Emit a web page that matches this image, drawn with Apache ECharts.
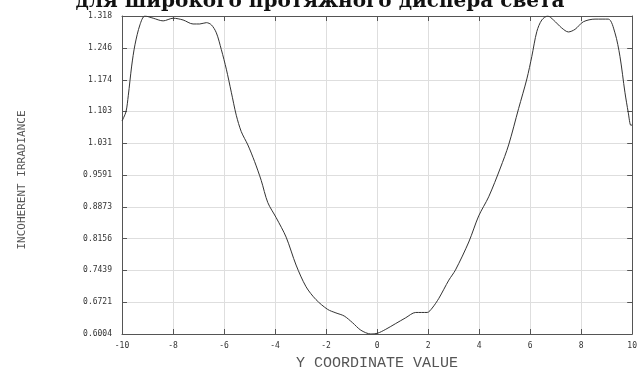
<!DOCTYPE html>
<html><head><meta charset="utf-8">
<script src="https://cdn.jsdelivr.net/npm/echarts@6/dist/echarts.min.js"></script>
<style>html,body{margin:0;padding:0;background:#fff}#c{width:640px;height:376px}</style>
</head><body><div id="c"></div>
<script>
const titleText = 'для широкого протяжного диспера света';
const xName = 'Y COORDINATE VALUE';
const yName = 'INCOHERENT IRRADIANCE';
const xValues = [-10, -9.844, -9.754, -9.621, -9.492, -9.297, -9.102, -8.777, -8.387, -7.996, -7.605, -7.215, -6.953, -6.691, -6.496, -6.301, -6.105, -5.910, -5.715, -5.520, -5.324, -5.066, -4.805, -4.543, -4.285, -3.957, -3.566, -3.176, -2.785, -2.395, -1.941, -1.613, -1.289, -0.965, -0.637, -0.246, 0.012, 0.340, 0.730, 1.121, 1.512, 1.965, 2.160, 2.422, 2.813, 3.074, 3.594, 3.984, 4.375, 4.832, 5.156, 5.547, 5.871, 6.066, 6.262, 6.457, 6.691, 6.914, 7.238, 7.500, 7.762, 8.086, 8.543, 9.063, 9.324, 9.520, 9.715, 9.844, 9.949, 10];
const yValues = [1.081, 1.102, 1.138, 1.205, 1.253, 1.298, 1.318, 1.313, 1.307, 1.313, 1.309, 1.300, 1.300, 1.303, 1.298, 1.280, 1.242, 1.198, 1.146, 1.094, 1.057, 1.027, 0.990, 0.947, 0.897, 0.863, 0.819, 0.756, 0.707, 0.678, 0.656, 0.648, 0.641, 0.626, 0.609, 0.6004, 0.602, 0.611, 0.624, 0.637, 0.649, 0.649, 0.659, 0.681, 0.722, 0.745, 0.808, 0.867, 0.910, 0.975, 1.027, 1.109, 1.176, 1.227, 1.283, 1.309, 1.318, 1.309, 1.291, 1.282, 1.288, 1.305, 1.311, 1.311, 1.280, 1.227, 1.146, 1.101, 1.071, 1.073];
const yTickValues = [0.6004, 0.6721, 0.7439, 0.8156, 0.8873, 0.9591, 1.031, 1.103, 1.174, 1.246, 1.318];
const yTickLabels = ['0.6004', '0.6721', '0.7439', '0.8156', '0.8873', '0.9591', '1.031', '1.103', '1.174', '1.246', '1.318'];
const xMin = -10, xMax = 10, xStep = 2;

const data = xValues.map((x, i) => [x, yValues[i]]);
const lblFont = {fontFamily: 'DejaVu Sans Mono', fontSize: 8, color: '#333'};
const tickStyle = {show: true, inside: true, length: 5, lineStyle: {color: '#555'}};
const chart = echarts.init(document.getElementById('c'));
chart.setOption({
  animation: false,
  backgroundColor: '#fff',
  graphic: [{
    type: 'text', left: 'center', top: -8,
    style: {text: titleText, font: 'bold 20px "DejaVu Serif"', fill: '#111'}
  }, {
    type: 'text', x: 22, y: 180, rotation: Math.PI / 2,
    style: {text: yName, font: '11px "DejaVu Sans Mono"', fill: '#555', textAlign: 'center', textVerticalAlign: 'middle'}
  }],
  grid: {left: 122, right: 6, top: 16, bottom: 38, containLabel: false},
  xAxis: [{
    type: 'value', min: xMin, max: xMax, interval: xStep,
    name: xName, nameLocation: 'middle', nameGap: 22,
    nameTextStyle: {fontFamily: 'Liberation Mono', fontSize: 15, color: '#555'},
    axisLine: {show: true, onZero: false, lineStyle: {color: '#555', width: 1}},
    axisTick: tickStyle,
    axisLabel: Object.assign({margin: 8}, lblFont),
    splitLine: {show: true, lineStyle: {color: '#dedede', width: 1}}
  }, {
    type: 'value', position: 'top', min: xMin, max: xMax, interval: xStep,
    axisLine: {show: true, onZero: false, lineStyle: {color: '#555', width: 1}},
    axisTick: tickStyle,
    axisLabel: {show: false}, splitLine: {show: false}
  }],
  yAxis: [{
    type: 'value', position: 'left', min: yTickValues[0], max: yTickValues[yTickValues.length - 1],
    axisLine: {show: true, onZero: false, lineStyle: {color: '#555', width: 1}},
    axisTick: Object.assign({customValues: yTickValues}, tickStyle),
    axisLabel: Object.assign({margin: 10, customValues: yTickValues,
      formatter: v => { const i = yTickValues.indexOf(v); return i >= 0 ? yTickLabels[i] : String(v); }}, lblFont),
    splitLine: {show: true, lineStyle: {color: '#dedede', width: 1}}
  }, {
    type: 'value', position: 'right', min: yTickValues[0], max: yTickValues[yTickValues.length - 1],
    axisLine: {show: true, onZero: false, lineStyle: {color: '#555', width: 1}},
    axisTick: Object.assign({customValues: yTickValues}, tickStyle),
    axisLabel: {show: false}, splitLine: {show: false}
  }],
  series: [{
    type: 'line', data: data, smooth: 0.3, showSymbol: false, symbol: 'none',
    lineStyle: {color: '#333', width: 1}
  }]
});
</script></body></html>
